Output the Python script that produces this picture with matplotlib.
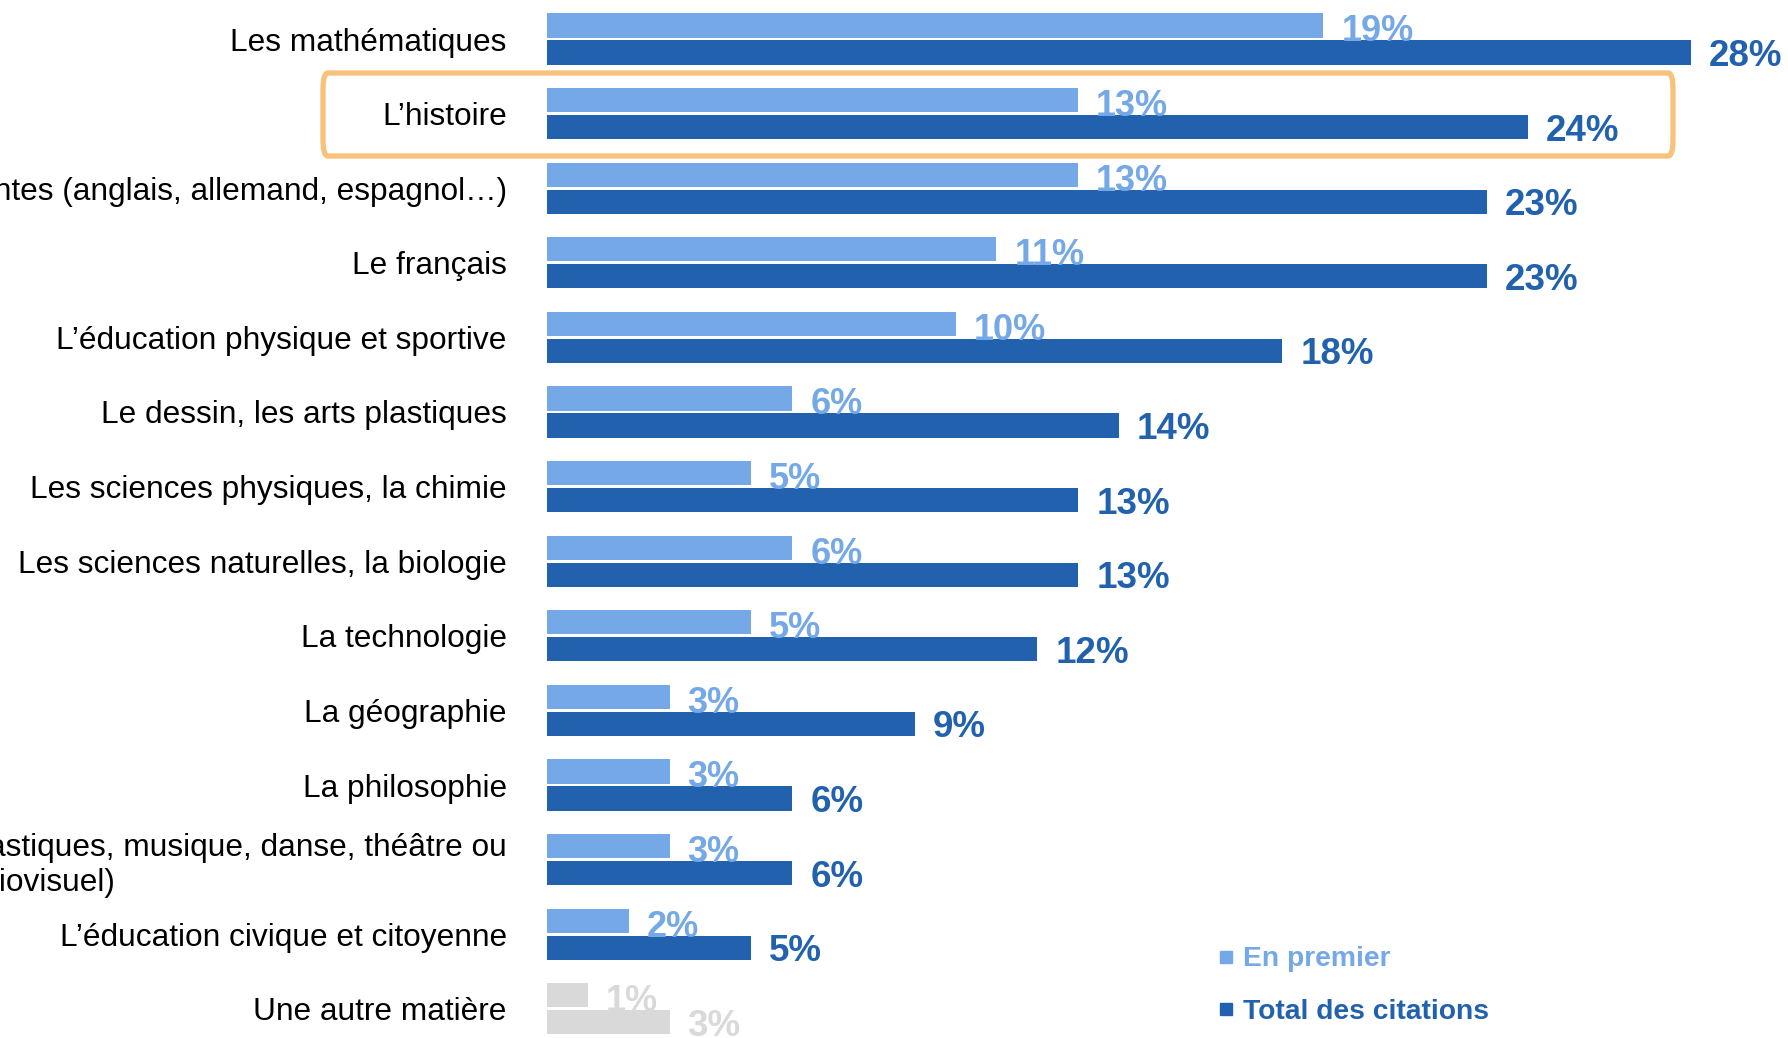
from matplotlib import pyplot as plt
from matplotlib.patches import FancyBboxPatch
from matplotlib.lines import Line2D
import numpy as np

plt.rcParams['font.family'] = ['Liberation Sans', 'DejaVu Sans']

# données
matieres = [
    "Les mathématiques",
    "L’histoire",
    "Les langues vivantes (anglais, allemand, espagnol…)",
    "Le français",
    "L’éducation physique et sportive",
    "Le dessin, les arts plastiques",
    "Les sciences physiques, la chimie",
    "Les sciences naturelles, la biologie",
    "La technologie",
    "La géographie",
    "La philosophie",
    "Les activités artistiques (arts plastiques, musique, danse, théâtre ou\naudiovisuel)",
    "L’éducation civique et citoyenne",
    "Une autre matière",
]
en_premier = [19, 13, 13, 11, 10, 6, 5, 6, 5, 3, 3, 3, 2, 1]
total_citations = [28, 24, 23, 23, 18, 14, 13, 13, 12, 9, 6, 6, 5, 3]

bleu_clair = '#74A8E7'
bleu_fonce = '#2161AE'
gris = '#D9D9D9'

W, H = 1788, 1038
x0 = 547          # pixel de départ des barres
px_par_pct = 40.86
y_first = 39      # centre de la première ligne (px depuis le haut)
pitch = 74.6

fig = plt.figure(figsize=(W / 100, H / 100), dpi=100)
ax = fig.add_axes([x0 / W, 0, 1 - x0 / W, 1])
ax.set_xlim(0, (W - x0) / px_par_pct)
ax.set_ylim((H - y_first) / pitch, -y_first / pitch)

y = np.arange(len(matieres))
off = 0.18
h = 0.325
n = len(matieres)
c1 = [bleu_clair] * (n - 1) + [gris]
c2 = [bleu_fonce] * (n - 1) + [gris]

ax.barh(y - off, en_premier, height=h, color=c1)
ax.barh(y + off, total_citations, height=h, color=c2)

dx = 18 / px_par_pct
for i in range(n):
    ax.text(en_premier[i] + dx, y[i] - off + 0.03, f"{en_premier[i]}%", color=c1[i],
            fontsize=26, fontweight='bold', va='center_baseline', ha='left')
    ax.text(total_citations[i] + dx, y[i] + off, f"{total_citations[i]}%", color=c2[i],
            fontsize=26.5, fontweight='bold', va='center_baseline', ha='left')

ax.set_yticks(y)
ax.set_yticklabels(matieres, fontsize=22.8)
for lbl in ax.get_yticklabels():
    lbl.set_multialignment('center')
ax.tick_params(axis='y', length=0, pad=29)
ax.set_xticks([])
for s in ax.spines.values():
    s.set_visible(False)

# cadre orange autour de l'histoire
bx0 = (323 - x0) / px_par_pct
bx1 = (1673 - x0) / px_par_pct
by0 = (73 - y_first) / pitch
by1 = (156 - y_first) / pitch
cadre = FancyBboxPatch((bx0, by0), bx1 - bx0, by1 - by0,
                       boxstyle='round,pad=0,rounding_size=0.12',
                       fill=False, edgecolor='#F8C27B', linewidth=3.8, clip_on=False,
                       mutation_aspect=pitch / px_par_pct)
ax.add_patch(cadre)

# légende
handles = [Line2D([], [], marker='s', linestyle='', color=bleu_clair, markersize=8),
           Line2D([], [], marker='s', linestyle='', color=bleu_fonce, markersize=8)]
leg = fig.legend(handles, ['En premier', 'Total des citations'], loc='upper left',
                 bbox_to_anchor=(1192 / W, 1 - 921 / H), frameon=False,
                 handlelength=0.6, handletextpad=0.3, labelspacing=0.95,
                 prop={'size': 20.3, 'weight': 'bold'}, labelcolor=[bleu_clair, bleu_fonce])

fig.savefig('out.png', dpi=100)
